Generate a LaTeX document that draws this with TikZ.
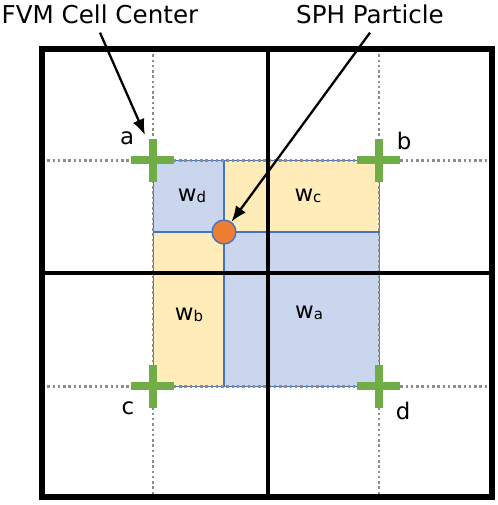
\documentclass[tikz,border=0pt]{standalone}
\usepackage{fontspec}
\setmainfont{DejaVu Sans}
\usepackage{xcolor}
\usepackage{tikz}
\usetikzlibrary{arrows.meta, calc}

\definecolor{cellblue}{RGB}{201,214,238}
\definecolor{cellyellow}{RGB}{255,236,185}
\definecolor{lineblue}{RGB}{68,114,196}
\definecolor{crossgreen}{RGB}{112,173,71}
\definecolor{particleorange}{RGB}{237,125,49}
\definecolor{dotgrey}{RGB}{140,140,140}

\newcommand{\wsub}[1]{w{\fontsize{8.5}{10}\selectfont\raisebox{-0.6pt}{#1}}}

\begin{document}
\begin{tikzpicture}[x=0.02cm, y=-0.02cm,
  cellline/.style={line width=2.6pt},
  gridline/.style={dotgrey, line width=1.7pt, dash pattern=on 1.4pt off 1.6pt},
  splitline/.style={lineblue, line width=0.9pt},
  centermark/.style={crossgreen, line width=4.4pt},
  title/.style={font=\fontsize{14}{16}\selectfont, inner xsep=0pt, inner ysep=5pt},
  lbl/.style={font=\fontsize{13}{15}\selectfont, inner sep=0pt},
  pointer/.style={-{Latex[length=9pt, width=7pt]}, line width=1.3pt}]

\useasboundingbox (0,0) rectangle (498,505);

% Cell centers and particle position
\coordinate (ca) at (153,160);
\coordinate (cb) at (379,160);
\coordinate (cc) at (153,386);
\coordinate (cd) at (379,386);
\coordinate (atip) at (145,135);

% Weight areas
\fill[cellblue]   (153,160) rectangle (224,232);
\fill[cellyellow] (224,160) rectangle (379,232);
\fill[cellyellow] (153,232) rectangle (224,386);
\fill[cellblue]   (224,232) rectangle (379,386);
\draw[splitline, line width=0.5pt] (ca) rectangle (cd);
\draw[splitline] (224,160) -- (224,386);
\draw[splitline] (153,232) -- (379,232);

% Dotted lines through the cell centers
\draw[gridline] (153,49) -- (153,498);
\draw[gridline] (379,49) -- (379,498);
\draw[gridline] (42,160) -- (493,160);
\draw[gridline] (42,386) -- (493,386);

% FVM cells
\draw[cellline, line width=3pt] (42,49) rectangle (492,497);
\draw[cellline] (268,49) -- (268,497);
\draw[cellline] (42,273) -- (492,273);

% Cell center marks
\foreach \c in {ca, cb, cc, cd}
  \draw[centermark] ($(\c)+(-21.5,0)$) -- ($(\c)+(21.5,0)$)
                    ($(\c)+(0,-21.5)$) -- ($(\c)+(0,21.5)$);

% Particle
\node[circle, fill=particleorange, draw=lineblue, line width=0.8pt,
      minimum size=13.6pt, inner sep=0pt] (particle) at (224,232) {};

% Labels
\node[lbl] (la) at (127,138) {a};
\node[lbl] (lb) at (404,141) {b};
\node[lbl] (lc) at (128,408) {c};
\node[lbl] (ld) at (403,411) {d};
\node[lbl] (wd) at (192,196) {\wsub{d}};
\node[lbl] (wc) at (308,196) {\wsub{c}};
\node[lbl] (wb) at (189,315) {\wsub{b}};
\node[lbl] (wa) at (309,313) {\wsub{a}};

\node[title] (fvm) at (100,14) {FVM Cell Center};
\node[title] (sph) at (370,14) {SPH Particle};

\draw[pointer] (fvm.south) -- (atip);
\draw[pointer] (sph.south) -- (particle);
\end{tikzpicture}
\end{document}
